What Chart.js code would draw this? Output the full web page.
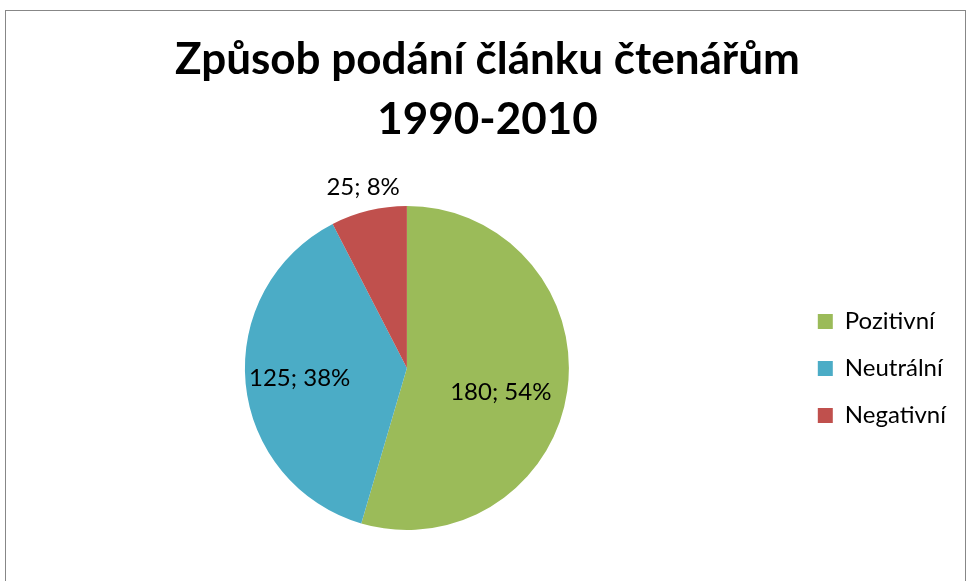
<!DOCTYPE html>
<html>
<head>
<meta charset="utf-8">
<script src="https://cdn.jsdelivr.net/npm/chart.js@4/dist/chart.umd.min.js"></script>
<style>
  html, body { margin: 0; padding: 0; background: #fff; }
  #wrap { position: relative; width: 970px; height: 581px; overflow: hidden; }
  #frame { position: absolute; left: 5px; top: 10px; width: 959px; height: 700px;
           border: 1px solid #878787; pointer-events: none; }
  canvas { position: absolute; left: 0; top: 0; }
</style>
</head>
<body>
<div id="wrap">
  <canvas id="pie" width="970" height="581"></canvas>
  <div id="frame"></div>
</div>
<script>
const titleLines = ['Způsob podání článku čtenářům', '1990-2010'];
const categories = ['Pozitivní', 'Neutrální', 'Negativní'];
const counts = [180, 125, 25];
const percentLabels = ['54%', '38%', '8%'];
const sliceColors = ['#9BBB59', '#4BACC6', '#C0504D'];

const FONT = 'Lato, "Open Sans", sans-serif';

// where each value label sits: how far round its slice (0..1) and how far out (in radii)
const labelSweep = [0.531, 0.5, 0.5];
const labelReach = [0.598, 0.665, 1.147];

const valueLabels = {
    id: 'valueLabels',
    afterDatasetsDraw(chart) {
        const ctx = chart.ctx;
        const arcs = chart.getDatasetMeta(0).data;
        ctx.save();
        ctx.font = '24px ' + FONT;
        ctx.fillStyle = '#000';
        ctx.textAlign = 'center';
        ctx.textBaseline = 'middle';
        arcs.forEach((arc, i) => {
            const { x, y, startAngle, endAngle, outerRadius } = arc.getProps(['x', 'y', 'startAngle', 'endAngle', 'outerRadius'], true);
            const a = startAngle + (endAngle - startAngle) * labelSweep[i];
            const r = outerRadius * labelReach[i];
            ctx.fillText(counts[i] + '; ' + percentLabels[i], x + Math.cos(a) * r, y + Math.sin(a) * r);
        });
        ctx.restore();
    }
};

new Chart(document.getElementById('pie'), {
    type: 'pie',
    data: {
        labels: categories,
        datasets: [{
            data: counts,
            backgroundColor: sliceColors,
            borderWidth: 0,
            hoverOffset: 0
        }]
    },
    options: {
        responsive: false,
        animation: false,
        layout: { padding: { left: 19, right: 14, top: 0, bottom: 51 } },
        plugins: {
            title: {
                display: true,
                text: titleLines,
                color: '#000',
                font: { family: FONT, size: 44, weight: 'bold', lineHeight: 60 / 44 },
                padding: { top: 30, bottom: 56 }
            },
            legend: {
                position: 'right',
                // empty legend title only pushes the entries down to the pie's middle
                title: { display: true, text: ' ', font: { size: 10 }, padding: { top: 195, bottom: 0 } },
                labels: {
                    color: '#000',
                    font: { family: FONT, size: 24 },
                    boxWidth: 15,
                    boxHeight: 15,
                    padding: 23
                }
            },
            tooltip: { enabled: false }
        }
    },
    plugins: [valueLabels]
});
</script>
</body>
</html>
